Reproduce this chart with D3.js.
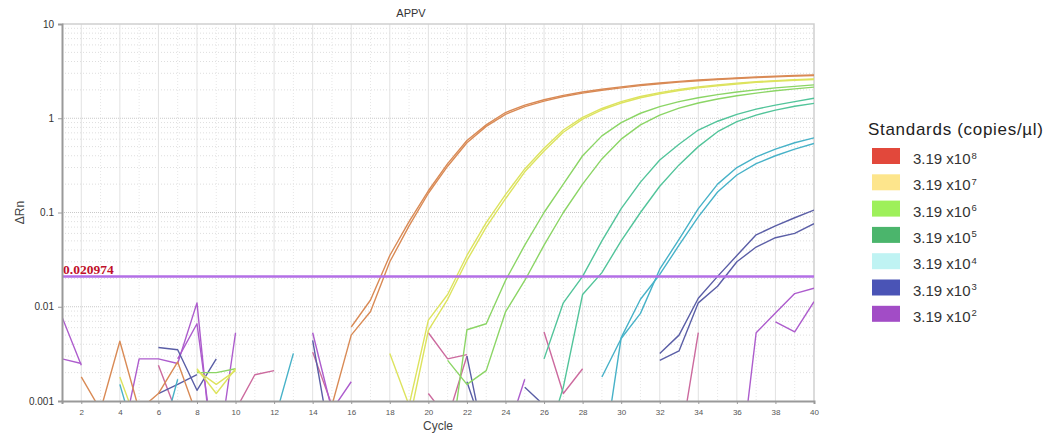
<!DOCTYPE html>
<html>
<head>
<meta charset="utf-8">
<script src="https://cdn.jsdelivr.net/npm/d3@7"></script>
<style>
  body { margin: 0; background: #fff; }
  svg { display: block; font-family: Arial, "Liberation Sans", sans-serif; }
</style>
</head>
<body>
<svg id="chart" width="1048" height="435"></svg>
<script>
// ---- Amplification data (ΔRn per cycle, cycles 1..40; null = no point) ----
const _ = null;
const cycles = d3.range(1, 41);

const rep8a = [_, .0018, .0008, .0043, .0008, .0012, .0026, .0007, _, _, _, _, _, _, _,
  .0061, .0118, .035, .08, .17, .33, .58, .85, 1.15, 1.38, 1.57, 1.75, 1.9, 2.03, 2.15,
  2.27, 2.37, 2.46, 2.55, 2.62, 2.68, 2.74, 2.79, 2.84, 2.88];
const rep8b = [_, _, _, _, _, _, _, _, _, _, _, _, _, _,
  .0009, .005, .0089, .03, .072, .16, .31, .55, .82, 1.1, 1.33, 1.52, 1.7, 1.85, 1.98, 2.1,
  2.22, 2.32, 2.42, 2.5, 2.58, 2.64, 2.7, 2.75, 2.8, 2.84];

const rep7a = [_, _, _, .0018, .0005, _, _, .0022, .0012, .0022, _, _, _, _, _, _, _,
  .0032, .0009, .0072, .0135, .035, .078, .155, .29, .48, .75, 1.02, 1.27, 1.5,
  1.7, 1.87, 2.02, 2.15, 2.26, 2.36, 2.44, 2.51, 2.57, 2.62];
const rep7b = [_, _, _, _, _, _, _, .0021, .0015, .0021, _, _, _, _, _, _, _, _,
  .0006, .0056, .012, .031, .07, .14, .27, .45, .71, .98, 1.23, 1.45,
  1.65, 1.82, 1.97, 2.1, 2.21, 2.31, 2.4, 2.47, 2.53, 2.58];

const rep6a = [_, _, _, _, _, _, _, .002, .002, .0022, _, _, _, _, _, _, _, _, _, _,
  .0002, .0057, .0066, .019, .045, .1, .2, .4, .65, .9,
  1.13, 1.33, 1.5, 1.65, 1.78, 1.9, 2.0, 2.1, 2.18, 2.26];
const rep6b = [_, _, _, _, _, _, _, _, _, _, _, _, _, _, _, _, _, _, _, _,
  .0027, .0015, .0021, .0088, .019, .045, .1, .2, .37, .6,
  .85, 1.08, 1.28, 1.45, 1.6, 1.73, 1.85, 1.96, 2.05, 2.14];

const rep5a = [_, _, _, _, _, _, _, _, _, _, _, _, _, _, _, _, _, _, _, _, _, _, _, _, _,
  .0028, .011, .021, .05, .11, .21, .36, .53, .75, .93, 1.1, 1.25, 1.38, 1.5, 1.63];
const rep5b = [_, _, _, _, _, _, _, _, _, _, _, _, _, _, _, _, _, _, _, _, _, _, _, _, _,
  .0003, .0014, .0135, .023, .05, .1, .19, .32, .5, .72, .92, 1.08, 1.22, 1.34, 1.44];

const rep4a = [_, _, _, .0015, .0003, .0003, .0017, _, _, _, _, .0006, .0032,
  _, _, _, _, _, _, _, _, _, _, _, _, _, _, _,
  .0018, .0046, .0085, .025, .052, .11, .2, .3, .39, .47, .55, .62];
const rep4b = [_, _, _, _, _, _, _, _, _, _, _, _, _, _, _, _, _, _, _, _, _, _, _, _, _, _, _, _,
  .0002, .0047, .012, .022, .045, .09, .165, .25, .33, .4, .47, .54];

const rep3a = [_, _, _, _, _, .0037, .0035, .0013, .0028, _, _, _, _, .0044, .0003,
  _, _, _, _, _, _, .003, .0003, _, .0014, .0009, _, _, _, _, _,
  .0032, .005, .0123, .021, .035, .058, .072, .088, .106];
const rep3b = [_, _, _, _, _, .0012, .0015, .0019, _, _, _, _, _, _, _, _, _, _, _, _, _,
  .0016, .0004, _, _, _, _, _, _, _, _,
  .0027, .0034, .011, .0165, .03, .043, .054, .06, .076];

const rep2a = [.0078, .0024, _, .0003, .0028, .0028, .0025, .011, .0001, _, _, _, _,
  .0053, .0008, .0016, _, _, _, _, _, _, _, .0004, .0017, _, _, _, _, _, _, _, _, _, _,
  .0001, .0053, .0086, .0138, .0157];
const rep2b = [.0028, .0025, _, _, _, _, .0028, .0066, .0002, .0053,
  _, _, _, _, _, _, _, _, _, _, _, _, _, _, _, _, _, _, _, _, _, _, _, _, _, _, _,
  .0069, .0054, .0113];

const ntcA = [_, _, _, _, _, _, _, _, _, .0008, .0019, .0021, _, .0033, .0009, _, _, _, _,
  .0053, .0028, .0031, _, _, _, .0054, .0012, .0022, _, _, _, _, .0003, .0053,
  _, _, _, _, _, _];
const ntcB = [_, _, _, _, _, .0024, .0007, _, _, _, _, _, _, _, _, _, _, _, _,
  .0012, .00065, .003, _, _, _, _, _, _, _, _, _, _, _, _, _, _, _, _, _, _];

const threshold = 0.020974;

// Legend entries (standard concentrations) and their colours
const stdBase = "3.19 x10";
const stdExponents = ["8", "7", "6", "5", "4", "3", "2"];
const swatchColors = ["#e2483b", "#fde58c", "#9ef05a", "#4bb56c", "#bff3f3", "#4a54b6", "#a24cc6"];

// Trace colours on the plot
const traceColors = {
  s8: "#d98a55", s7: "#dde35e", s6: "#8bd565", s5: "#52c49a",
  s4: "#47b2c8", s3: "#5a5ea6", s2: "#ad5ccd", ntc: "#cc6a9e"
};
const traces = [
  { key: "ntc", values: ntcA }, { key: "ntc", values: ntcB },
  { key: "s2", values: rep2a }, { key: "s2", values: rep2b },
  { key: "s3", values: rep3a }, { key: "s3", values: rep3b },
  { key: "s4", values: rep4a }, { key: "s4", values: rep4b },
  { key: "s5", values: rep5a }, { key: "s5", values: rep5b },
  { key: "s6", values: rep6a }, { key: "s6", values: rep6b },
  { key: "s7", values: rep7a }, { key: "s7", values: rep7b },
  { key: "s8", values: rep8a }, { key: "s8", values: rep8b }
];

const yTickValues = [0.001, 0.01, 0.1, 1, 10];
const yTickLabels = ["0.001", "0.01", "0.1", "1", "10"];
const xTickValues = d3.range(2, 41, 2);

// ---- Layout ----
const svg = d3.select("#chart");
const pL = 62, pR = 814, pT = 24, pB = 401;
const x = d3.scaleLinear().domain([1, 40]).range([pL, pR]);
const y = d3.scaleLog().domain([0.001, 10]).range([pB, pT]);

// Grid
const grid = svg.append("g");
const minorY = [];
for (let e = -3; e < 1; e++) for (let k = 2; k <= 9; k++) minorY.push(k * Math.pow(10, e));
grid.selectAll("line.my").data(minorY).join("line")
  .attr("x1", pL).attr("x2", pR)
  .attr("y1", d => y(d)).attr("y2", d => y(d))
  .attr("stroke", "#dedede").attr("stroke-width", 1).attr("stroke-dasharray", "1,2");
grid.selectAll("line.Mx").data(yTickValues.slice(1, 4)).join("line")
  .attr("x1", pL).attr("x2", pR)
  .attr("y1", d => y(d)).attr("y2", d => y(d))
  .attr("stroke", "#c9c9c9").attr("stroke-width", 1).attr("stroke-dasharray", "1,1");
grid.selectAll("line.mx").data(cycles.filter(c => c % 2 === 1 && c > 1)).join("line")
  .attr("x1", d => x(d)).attr("x2", d => x(d))
  .attr("y1", pT).attr("y2", pB)
  .attr("stroke", "#e6e6e6").attr("stroke-width", 1).attr("stroke-dasharray", "1,2");
grid.selectAll("line.vx").data(xTickValues.slice(0, -1)).join("line")
  .attr("x1", d => x(d)).attr("x2", d => x(d))
  .attr("y1", pT).attr("y2", pB)
  .attr("stroke", "#e2e2e2").attr("stroke-width", 1);

// Frame (top/right)
svg.append("path")
  .attr("d", `M${pL},${pT}H${pR}V${pB}`)
  .attr("fill", "none").attr("stroke", "#cfcfcf").attr("stroke-width", 1.5);

// Traces
svg.append("clipPath").attr("id", "plot-clip")
  .append("rect").attr("x", pL).attr("y", pT).attr("width", pR - pL).attr("height", pB - pT);

const line = d3.line()
  .defined(d => d.v != null)
  .x(d => x(d.c))
  .y(d => y(d.v));

svg.append("g").attr("clip-path", "url(#plot-clip)")
  .selectAll("path").data(traces).join("path")
  .attr("d", t => line(t.values.map((v, i) => ({ c: cycles[i], v }))))
  .attr("fill", "none")
  .attr("stroke", t => traceColors[t.key])
  .attr("stroke-width", 1.4)
  .attr("stroke-linejoin", "round");

// Threshold
svg.append("line")
  .attr("x1", pL).attr("x2", pR)
  .attr("y1", y(threshold)).attr("y2", y(threshold))
  .attr("stroke", "#b36fe6").attr("stroke-width", 2.6);
svg.append("text")
  .attr("x", pL + 1).attr("y", y(threshold) - 2)
  .attr("font-family", "'Liberation Serif', 'Times New Roman', serif")
  .attr("font-weight", "bold").attr("font-size", 13.5)
  .attr("fill", "#c0102a")
  .text(d3.format(".6f")(threshold));

// Axes
const yAxis = svg.append("g").attr("transform", `translate(${pL},0)`)
  .call(d3.axisLeft(y).tickValues(yTickValues)
    .tickFormat((d, i) => yTickLabels[i]).tickSize(4).tickPadding(4));
yAxis.select(".domain").attr("stroke", "#999").attr("stroke-width", 2);
yAxis.selectAll(".tick line").attr("stroke", "#999");
yAxis.selectAll(".tick text").attr("font-size", 10).attr("fill", "#333")
  .attr("font-family", "Arial, 'Liberation Sans', sans-serif");

const xAxis = svg.append("g").attr("transform", `translate(0,${pB})`)
  .call(d3.axisBottom(x).tickValues(xTickValues).tickSize(3).tickPadding(5));
xAxis.select(".domain").attr("stroke", "#999").attr("stroke-width", 2);
xAxis.selectAll(".tick line").attr("stroke", "#999");
xAxis.selectAll(".tick text").attr("font-size", 8).attr("fill", "#555")
  .attr("font-family", "Arial, 'Liberation Sans', sans-serif");

// Titles
svg.append("text").attr("x", 411).attr("y", 17).attr("text-anchor", "middle")
  .attr("font-size", 11).attr("fill", "#333").text("APPV");
svg.append("text").attr("x", (pL + pR) / 2).attr("y", 430).attr("text-anchor", "middle")
  .attr("font-size", 12).attr("fill", "#444").text("Cycle");
svg.append("text").attr("transform", `translate(24,${y(0.1)}) rotate(-90)`)
  .attr("text-anchor", "middle").attr("font-size", 12).attr("fill", "#444").text("ΔRn");

// Legend
const legend = svg.append("g");
legend.append("text").attr("x", 868).attr("y", 134.5)
  .attr("font-size", 17).attr("fill", "#222")
  .attr("textLength", 175).attr("lengthAdjust", "spacing")
  .text("Standards (copies/µl)");
const rows = legend.selectAll("g.row").data(stdExponents).join("g")
  .attr("transform", (d, i) => `translate(0,${i * 26.3})`);
rows.append("rect").attr("x", 872).attr("y", 148).attr("width", 28).attr("height", 16)
  .attr("fill", (d, i) => swatchColors[i]);
const lt = rows.append("text").attr("x", 913).attr("y", 164)
  .attr("font-size", 15).attr("fill", "#333");
lt.append("tspan").text(stdBase);
lt.append("tspan").attr("font-size", 9.5).attr("dx", 1).attr("dy", -5.5).text(d => d);
</script>
</body>
</html>
